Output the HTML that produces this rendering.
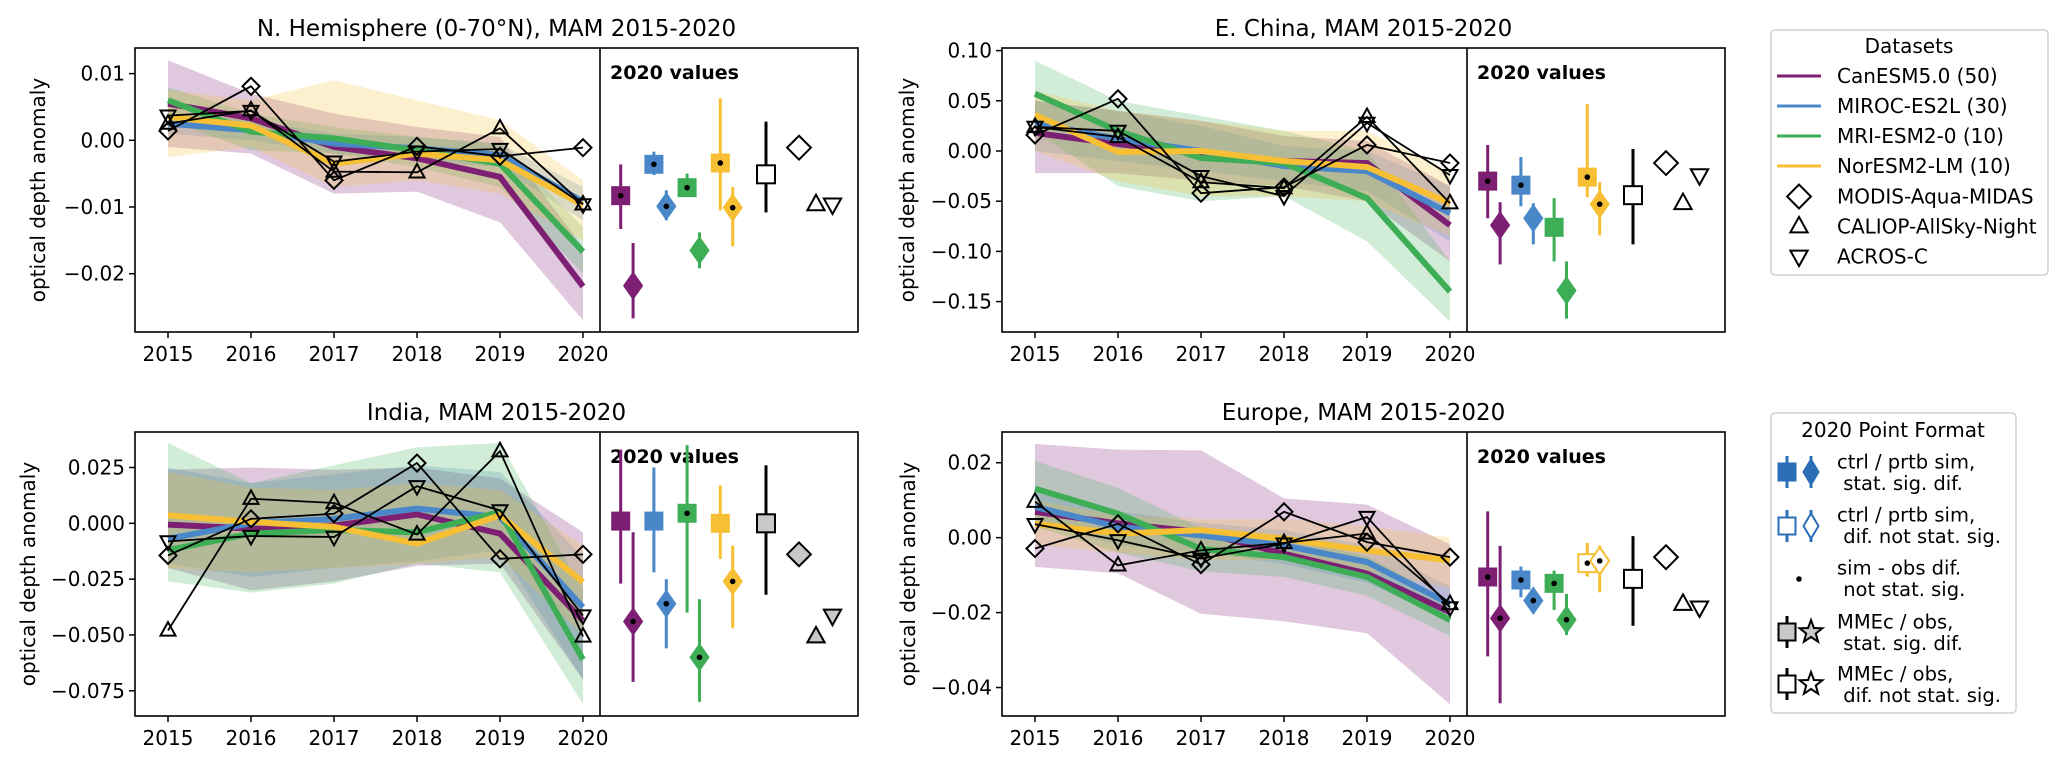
<!DOCTYPE html>
<html><head><meta charset="utf-8">
<style>
html,body{margin:0;padding:0;background:#fff;}
svg{display:block;font-family:"DejaVu Sans","Liberation Sans",sans-serif;}
.pre{white-space:pre;}
</style></head>
<body>
<svg id="fig" width="2067" height="763" viewBox="0 0 2067 763" xmlns="http://www.w3.org/2000/svg"></svg>
<script>
// ---------------- DATA ----------------
const years = [2015, 2016, 2017, 2018, 2019, 2020];
const modelNames = ["CanESM5.0 (50)", "MIROC-ES2L (30)", "MRI-ESM2-0 (10)", "NorESM2-LM (10)"];
const obsNames = ["MODIS-Aqua-MIDAS", "CALIOP-AllSky-Night", "ACROS-C"];
const panelTitles = ["N. Hemisphere (0-70°N), MAM 2015-2020", "E. China, MAM 2015-2020", "India, MAM 2015-2020", "Europe, MAM 2015-2020"];
const tickVals1 = [0.01, 0, -0.01, -0.02];
const tickLabels1 = ["0.01", "0.00", "−0.01", "−0.02"];
const tickVals2 = [0.10, 0.05, 0, -0.05, -0.10, -0.15];
const tickLabels2 = ["0.10", "0.05", "0.00", "−0.05", "−0.10", "−0.15"];
const tickVals3 = [0.025, 0, -0.025, -0.05, -0.075];
const tickLabels3 = ["0.025", "0.000", "−0.025", "−0.050", "−0.075"];
const tickVals4 = [0.02, 0, -0.02, -0.04];
const tickLabels4 = ["0.02", "0.00", "−0.02", "−0.04"];

// Panel 1: N. Hemisphere
const nhMean = [[0.0055,0.0033,-0.001,-0.0027,-0.0055,-0.0219],[0.0025,0.0015,-0.0005,-0.0012,-0.0022,-0.0092],[0.006,0.0013,0.0003,-0.0015,-0.0035,-0.0167],[0.0035,0.0022,-0.0035,-0.002,-0.003,-0.0097]];
const nhLo = [[-0.001,-0.002,-0.008,-0.0077,-0.0123,-0.027],[0.001,0.0,-0.002,-0.003,-0.004,-0.012],[0.003,-0.0015,-0.002,-0.004,-0.007,-0.02],[-0.0025,-0.001,-0.007,-0.006,-0.008,-0.015]];
const nhHi = [[0.012,0.007,0.004,0.002,0.0005,-0.016],[0.004,0.003,0.001,0.0005,-0.0005,-0.007],[0.008,0.004,0.002,0.0005,-0.0005,-0.013],[0.0075,0.006,0.009,0.006,0.003,-0.006]];
const nhObs = [[0.0014,0.0081,-0.006,-0.0009,-0.0024,-0.0011],[0.0025,0.0045,-0.0047,-0.0048,0.0018,-0.0096],[0.0037,0.0044,-0.0032,-0.0017,-0.0013,-0.0096]];
const nhSq = [-0.0083,-0.0036,-0.0071,-0.0034], nhSqLo = [-0.0133,-0.0052,-0.0085,-0.0105], nhSqHi = [-0.0036,-0.0017,-0.0050,0.0063];
const nhDm = [-0.0218,-0.0099,-0.0165,-0.0101], nhDmLo = [-0.0267,-0.0120,-0.0192,-0.0159], nhDmHi = [-0.0154,-0.0075,-0.0138,-0.0070];
const nhSqDot = [1,1,1,1], nhDmDot = [0,1,0,1], nhFill = [1,1,1,1];
const nhMme = [-0.0051,-0.0108,0.0028], nhMmeFill = 0, nhObsFill = 0;

// Panel 2: E. China
const ecMean = [[0.018,0.007,-0.003,-0.01,-0.012,-0.074],[0.028,0.012,0.0,-0.015,-0.02,-0.062],[0.057,0.02,-0.007,-0.012,-0.047,-0.14],[0.036,-0.001,0.0,-0.01,-0.016,-0.052]];
const ecLo = [[-0.022,-0.022,-0.03,-0.035,-0.05,-0.11],[0.0,-0.01,-0.02,-0.03,-0.04,-0.09],[0.02,-0.035,-0.05,-0.045,-0.09,-0.17],[0.0,-0.03,-0.045,-0.045,-0.05,-0.085]];
const ecHi = [[0.05,0.04,0.03,0.015,0.01,-0.035],[0.05,0.04,0.025,0.005,0.0,-0.035],[0.09,0.05,0.035,0.02,0.0,-0.11],[0.06,0.04,0.03,0.02,0.02,-0.02]];
const ecObs = [[0.016,0.052,-0.042,-0.036,0.006,-0.012],[0.024,0.014,-0.031,-0.037,0.034,-0.052],[0.024,0.02,-0.025,-0.045,0.028,-0.024]];
const ecSq = [-0.030,-0.034,-0.076,-0.026], ecSqLo = [-0.067,-0.055,-0.110,-0.046], ecSqHi = [0.006,-0.006,-0.047,0.047];
const ecDm = [-0.074,-0.067,-0.139,-0.053], ecDmLo = [-0.113,-0.093,-0.167,-0.084], ecDmHi = [-0.051,-0.052,-0.110,-0.031];
const ecSqDot = [1,1,0,1], ecDmDot = [0,0,0,1], ecFill = [1,1,1,1];
const ecMme = [-0.044,-0.093,0.002], ecMmeFill = 0, ecObsFill = 0;

// Panel 3: India
const inMean = [[-0.0006,-0.0024,-0.001,0.004,-0.0046,-0.0436],[-0.0069,0.0,0.002,0.0066,0.0028,-0.0376],[-0.012,-0.0046,-0.003,-0.004,0.005,-0.061],[0.0036,0.0006,-0.0016,-0.0091,0.0036,-0.0263]];
const inLo = [[-0.02,-0.03,-0.026,-0.019,-0.018,-0.07],[-0.018,-0.024,-0.02,-0.017,-0.012,-0.07],[-0.026,-0.031,-0.027,-0.018,-0.022,-0.081],[-0.02,-0.022,-0.02,-0.018,-0.015,-0.05]];
const inHi = [[0.024,0.025,0.024,0.025,0.02,-0.004],[0.025,0.018,0.022,0.026,0.023,-0.015],[0.036,0.018,0.026,0.034,0.036,-0.03],[0.023,0.016,0.015,0.018,0.015,-0.01]];
const inObs = [[-0.0144,0.002,0.0043,0.027,-0.0159,-0.0139],[-0.048,0.011,0.0091,-0.005,0.0323,-0.0507],[-0.0081,-0.0057,-0.0061,0.0166,0.0058,-0.0413]];
const inSq = [0.001,0.001,0.0045,0.0], inSqLo = [-0.027,-0.022,-0.040,-0.016], inSqHi = [0.033,0.025,0.035,0.017];
const inDm = [-0.044,-0.036,-0.060,-0.026], inDmLo = [-0.071,-0.056,-0.080,-0.047], inDmHi = [-0.004,-0.025,-0.034,-0.010];
const inSqDot = [0,0,1,0], inDmDot = [1,1,1,1], inFill = [1,1,1,1];
const inMme = [0.0,-0.032,0.026], inMmeFill = 1, inObsFill = 1;

// Panel 4: Europe
const euMean = [[0.0069,0.0038,0.0015,-0.0043,-0.0096,-0.0199],[0.0082,0.0029,0.0006,-0.0021,-0.0065,-0.0177],[0.0131,0.0064,-0.003,-0.0052,-0.0105,-0.022],[0.0037,0.0011,0.002,-0.0003,-0.0034,-0.0061]];
const euLo = [[-0.0078,-0.0095,-0.0203,-0.0223,-0.0255,-0.0445],[0.004,-0.002,-0.004,-0.007,-0.012,-0.022],[0.003,-0.004,-0.009,-0.0105,-0.0155,-0.0262],[-0.002,-0.004,-0.006,-0.006,-0.009,-0.0135]];
const euHi = [[0.025,0.0235,0.0233,0.0105,0.0088,-0.0018],[0.012,0.007,0.004,0.002,-0.002,-0.013],[0.0205,0.0133,0.0025,0.0,-0.005,-0.017],[0.01,0.006,0.005,0.005,0.003,0.0]];
const euObs = [[-0.0029,0.0037,-0.0072,0.0069,-0.0012,-0.0052],[0.0096,-0.0074,-0.0034,-0.0014,0.0011,-0.0177],[0.0036,-0.0007,-0.0056,-0.0016,0.0055,-0.0186]];
const euSq = [-0.0105,-0.0113,-0.0122,-0.0068], euSqLo = [-0.0317,-0.0159,-0.0193,-0.0104], euSqHi = [0.007,-0.0077,-0.0088,-0.0014];
const euDm = [-0.0215,-0.0168,-0.0219,-0.0062], euDmLo = [-0.0442,-0.0195,-0.026,-0.0146], euDmHi = [-0.0022,-0.014,-0.015,-0.0021];
const euSqDot = [1,1,1,1], euDmDot = [1,1,1,1], euFill = [1,1,1,0];
const euMme = [-0.011,-0.0235,0.0004], euMmeFill = 0, euObsFill = 0;

// ---------------- LAYOUT ----------------
const colors = ["#7d1f73", "#4a87c9", "#3dae56", "#f7bf34"];
const NS = "http://www.w3.org/2000/svg";
const svg = document.getElementById("fig");
function mk(tag, attrs, parent) {
  const e = document.createElementNS(NS, tag);
  for (const k in attrs) e.setAttribute(k, attrs[k]);
  (parent || svg).appendChild(e);
  return e;
}
const panels = [
  {left:135, top:48, ymin:-0.02874, ymax:0.01384, tv:tickVals1, tl:tickLabels1, ylx:38, key:"nh",
   mean:nhMean, lo:nhLo, hi:nhHi, obs:nhObs, sq:nhSq, sqLo:nhSqLo, sqHi:nhSqHi, dm:nhDm, dmLo:nhDmLo, dmHi:nhDmHi, sqDot:nhSqDot, dmDot:nhDmDot, fill:nhFill, mme:nhMme, mmeFill:nhMmeFill, obsFill:nhObsFill},
  {left:1002, top:48, ymin:-0.1803, ymax:0.1026, tv:tickVals2, tl:tickLabels2, ylx:907, key:"ec",
   mean:ecMean, lo:ecLo, hi:ecHi, obs:ecObs, sq:ecSq, sqLo:ecSqLo, sqHi:ecSqHi, dm:ecDm, dmLo:ecDmLo, dmHi:ecDmHi, sqDot:ecSqDot, dmDot:ecDmDot, fill:ecFill, mme:ecMme, mmeFill:ecMmeFill, obsFill:ecObsFill},
  {left:135, top:432, ymin:-0.0863, ymax:0.0409, tv:tickVals3, tl:tickLabels3, ylx:28, key:"in",
   mean:inMean, lo:inLo, hi:inHi, obs:inObs, sq:inSq, sqLo:inSqLo, sqHi:inSqHi, dm:inDm, dmLo:inDmLo, dmHi:inDmHi, sqDot:inSqDot, dmDot:inDmDot, fill:inFill, mme:inMme, mmeFill:inMmeFill, obsFill:inObsFill},
  {left:1002, top:432, ymin:-0.0476, ymax:0.0282, tv:tickVals4, tl:tickLabels4, ylx:908, key:"eu",
   mean:euMean, lo:euLo, hi:euHi, obs:euObs, sq:euSq, sqLo:euSqLo, sqHi:euSqHi, dm:euDm, dmLo:euDmLo, dmHi:euDmHi, sqDot:euSqDot, dmDot:euDmDot, fill:euFill, mme:euMme, mmeFill:euMmeFill, obsFill:euObsFill}
];
const MAINW = 465, TOTW = 723, H = 284;

function diamondPts(cx, cy, w, h) {
  return `${cx},${cy-h/2} ${cx+w/2},${cy} ${cx},${cy+h/2} ${cx-w/2},${cy}`;
}
function triPts(cx, cy, s, up) {
  const h = s * 0.9;
  return up ? `${cx},${cy-h*0.62} ${cx+s/2},${cy+h*0.38} ${cx-s/2},${cy+h*0.38}`
            : `${cx},${cy+h*0.62} ${cx+s/2},${cy-h*0.38} ${cx-s/2},${cy-h*0.38}`;
}
function obsMarker(g, k, cx, cy, fill, scale) {
  let m;
  if (k === 0) m = mk("polygon", {points: diamondPts(cx, cy, 17*scale, 17*scale), fill: fill, stroke:"#000", "stroke-width":2}, g);
  else m = mk("polygon", {points: triPts(cx, cy, 15*scale, k === 1), fill: fill, stroke:"#000", "stroke-width":2}, g);
  return m;
}

panels.forEach((p, pi) => {
  const g = mk("g", {});
  
  
  const xs = yr => p.left + 33 + (yr - 2015) * 83;
  const ys = v => p.top + (p.ymax - v) / (p.ymax - p.ymin) * H;
  const clipId = "clip" + pi;
  const cp = mk("clipPath", {id: clipId}, g);
  mk("rect", {x:p.left, y:p.top, width:MAINW, height:H}, cp);

  const t = mk("text", {x:p.left + TOTW/2, y:p.top - 12, "text-anchor":"middle", "font-size":23, fill:"#000"}, g);
  t.textContent = panelTitles[pi];
  
  

  const yl = mk("text", {x:p.ylx, y:p.top + H/2, "text-anchor":"middle", "dominant-baseline":"central", "font-size":20, transform:`rotate(-90 ${p.ylx} ${p.top+H/2})`}, g);
  yl.textContent = "optical depth anomaly";
  
  

  p.tv.forEach((v, i) => {
    const y = ys(v);
    const tk = mk("line", {x1:p.left-6, x2:p.left, y1:y, y2:y, stroke:"#000", "stroke-width":1.5}, g);
    
    
    const tx = mk("text", {x:p.left-10, y:y, "text-anchor":"end", "dominant-baseline":"central", "font-size":20}, g);
    tx.textContent = p.tl[i];
    
    
  });
  years.forEach(yr => {
    const x = xs(yr);
    const tk = mk("line", {x1:x, x2:x, y1:p.top+H, y2:p.top+H+6, stroke:"#000", "stroke-width":1.5}, g);
    
    
    const tx = mk("text", {x:x, y:p.top+H+29, "text-anchor":"middle", "font-size":20}, g);
    tx.textContent = String(yr);
    
    
  });

  const pg = mk("g", {"clip-path":`url(#${clipId})`}, g);
  for (let m = 0; m < 4; m++) {
    let d = "";
    years.forEach((yr, i) => { d += (i ? "L" : "M") + xs(yr) + "," + ys(p.hi[m][i]); });
    for (let i = years.length - 1; i >= 0; i--) d += "L" + xs(years[i]) + "," + ys(p.lo[m][i]);
    const b = mk("path", {d: d + "Z", fill: colors[m], "fill-opacity": 0.24, stroke:"none"}, pg);
    
    
  }
  for (let m = 0; m < 4; m++) {
    const pts = years.map((yr, i) => xs(yr) + "," + ys(p.mean[m][i])).join(" ");
    const l = mk("polyline", {points: pts, fill:"none", stroke: colors[m], "stroke-width":6}, pg);
    
    
  }
  for (let k = 0; k < 3; k++) {
    const pts = years.map((yr, i) => xs(yr) + "," + ys(p.obs[k][i])).join(" ");
    const l = mk("polyline", {points: pts, fill:"none", stroke:"#000", "stroke-width":1.8}, pg);
    
    
  }
  for (let k = 0; k < 3; k++) {
    years.forEach((yr, i) => {
      const mm = obsMarker(pg, k, xs(yr), ys(p.obs[k][i]), "none", 1);
      
      
    });
  }

  const dv = p.left + MAINW;
  const lbl = mk("text", {x:dv+10, y:p.top+31, "font-size":19, "font-weight":"bold"}, g);
  lbl.textContent = "2020 values";
  
  
  for (let m = 0; m < 4; m++) {
    const xsq = dv + 20.7 + 33.2*m, xdm = xsq + 12.4;
    const fillC = p.fill[m] ? colors[m] : "#fff";
    const e1 = mk("line", {x1:xsq, x2:xsq, y1:ys(p.sqHi[m]), y2:ys(p.sqLo[m]), stroke:colors[m], "stroke-width":3}, g);
    
    
    const s = mk("rect", {x:xsq-9, y:ys(p.sq[m])-9, width:18, height:18, fill:fillC, stroke:colors[m], "stroke-width":p.fill[m]?1:2}, g);
    
    
    if (p.sqDot[m]) {
      const dd = mk("circle", {cx:xsq, cy:ys(p.sq[m]), r:2.8, fill:"#000"}, g);
      
      
    }
    const e2 = mk("line", {x1:xdm, x2:xdm, y1:ys(p.dmHi[m]), y2:ys(p.dmLo[m]), stroke:colors[m], "stroke-width":3}, g);
    
    
    const d = mk("polygon", {points: diamondPts(xdm, ys(p.dm[m]), 19, 27), fill:fillC, stroke:colors[m], "stroke-width":p.fill[m]?1:2}, g);
    
    
    if (p.dmDot[m]) {
      const dd = mk("circle", {cx:xdm, cy:ys(p.dm[m]), r:2.8, fill:"#000"}, g);
      
      
    }
  }
  const xm = dv + 166;
  const me = mk("line", {x1:xm, x2:xm, y1:ys(p.mme[2]), y2:ys(p.mme[1]), stroke:"#000", "stroke-width":3}, g);
  
  
  const ms = mk("rect", {x:xm-9, y:ys(p.mme[0])-9, width:18, height:18, fill:p.mmeFill?"#c8c8c8":"#fff", stroke:"#000", "stroke-width":2}, g);
  
  
  const oxs = [199, 216, 232.5];
  for (let k = 0; k < 3; k++) {
    const om = obsMarker(g, k, dv + oxs[k], ys(p.obs[k][5]), p.obsFill ? "#c8c8c8" : "#fff", k === 0 ? 1.4 : 1.15);
    
    
  }

  const fr = mk("rect", {x:p.left, y:p.top, width:TOTW, height:H, fill:"none", stroke:"#000", "stroke-width":1.6}, g);
  
  
  const dl = mk("line", {x1:dv, x2:dv, y1:p.top, y2:p.top+H, stroke:"#000", "stroke-width":1.6}, g);
  
  
});

// ---------------- LEGENDS ----------------
const lg1 = mk("g", {});


mk("rect", {x:1771, y:30, width:277, height:245, rx:4, fill:"#fff", stroke:"#d0d0d0", "stroke-width":1.5}, lg1);
const lt1 = mk("text", {x:1909, y:46, "text-anchor":"middle", "dominant-baseline":"central", "font-size":20}, lg1);
lt1.textContent = "Datasets";
for (let m = 0; m < 4; m++) {
  const y = 76 + 30*m;
  const ln = mk("line", {x1:1777, x2:1821, y1:y, y2:y, stroke:colors[m], "stroke-width":3}, lg1);
  
  
  const tx = mk("text", {x:1837, y:y, "dominant-baseline":"central", "font-size":20}, lg1);
  tx.textContent = modelNames[m];
  
  
}
for (let k = 0; k < 3; k++) {
  const y = 196.5 + 30*k;
  const om = obsMarker(lg1, k, 1799, y, "#fff", k === 0 ? 1.4 : 1.15);
  
  
  const tx = mk("text", {x:1837, y:y, "dominant-baseline":"central", "font-size":20}, lg1);
  tx.textContent = obsNames[k];
  
  
}

const lg2 = mk("g", {});


mk("rect", {x:1771, y:413, width:245, height:300, rx:4, fill:"#fff", stroke:"#d0d0d0", "stroke-width":1.5}, lg2);
const lt2 = mk("text", {x:1893, y:430, "text-anchor":"middle", "dominant-baseline":"central", "font-size":20}, lg2);
lt2.textContent = "2020 Point Format";
const fmtText = [["ctrl / prtb sim,", " stat. sig. dif."], ["ctrl / prtb sim,", " dif. not stat. sig."], ["sim - obs dif.", " not stat. sig."], ["MMEc / obs,", " stat. sig. dif."], ["MMEc / obs,", " dif. not stat. sig."]];
const fmtY = [472, 525, 578, 632, 684];
fmtText.forEach((lines, i) => {
  const cy = fmtY[i];
  lines.forEach((s, j) => {
    const tx = mk("text", {x:1837, y:cy - 10 + j*21.5, "dominant-baseline":"central", "font-size":19.5, "class":"pre"}, lg2);
    tx.textContent = s;
    
    
  });
});
function fmtGlyph(cy, col, fill, shape) {
  mk("line", {x1:1787, x2:1787, y1:cy-16, y2:cy+16, stroke:col, "stroke-width":3}, lg2);
  mk("rect", {x:1778.5, y:cy-8.5, width:17, height:17, fill:fill, stroke:col, "stroke-width":2}, lg2);
  if (shape === "d") {
    mk("line", {x1:1811, x2:1811, y1:cy-16, y2:cy+16, stroke:col, "stroke-width":3}, lg2);
    mk("polygon", {points: diamondPts(1811, cy, 15, 25), fill:fill, stroke:col, "stroke-width":2}, lg2);
  } else {
    let pts = [];
    for (let i = 0; i < 10; i++) {
      const r = i % 2 ? 5 : 12, a = -Math.PI/2 + i*Math.PI/5;
      pts.push((1811 + r*Math.cos(a)).toFixed(1) + "," + (cy + r*Math.sin(a)).toFixed(1));
    }
    mk("polygon", {points: pts.join(" "), fill:fill, stroke:"#000", "stroke-width":2}, lg2);
  }
}
fmtGlyph(472, "#2b6fb8", "#2b6fb8", "d");
fmtGlyph(526, "#2b6fb8", "#fff", "d");
const ldot = mk("circle", {cx:1799, cy:579, r:2.8, fill:"#000"}, lg2);


fmtGlyph(632, "#000", "#c8c8c8", "s");
fmtGlyph(684, "#000", "#fff", "s");
</script>
</body></html>
